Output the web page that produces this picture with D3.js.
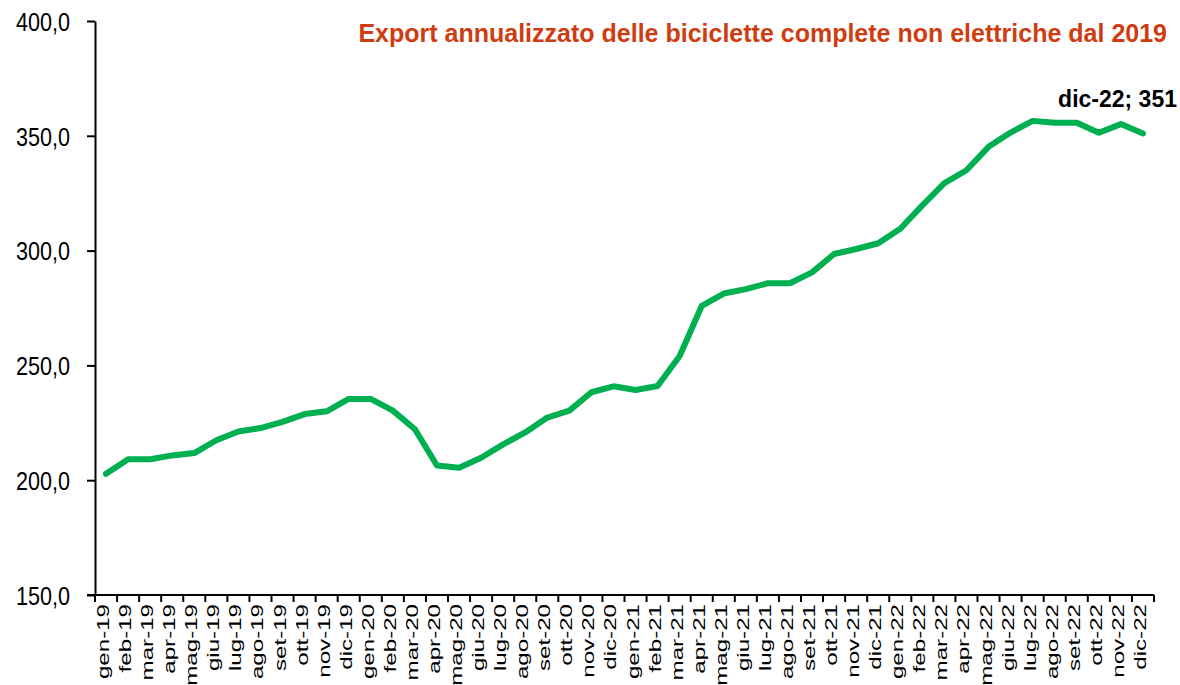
<!DOCTYPE html>
<html>
<head>
<meta charset="utf-8">
<script src="https://cdn.jsdelivr.net/npm/d3@7"></script>
<style>
  body { margin: 0; background: #fff; }
  svg { display: block; }
</style>
</head>
<body>
<svg id="chart" width="1180" height="685"></svg>
<script>
// months on the x axis
const months = [
    "gen-19","feb-19","mar-19","apr-19","mag-19","giu-19","lug-19","ago-19","set-19","ott-19","nov-19","dic-19",
    "gen-20","feb-20","mar-20","apr-20","mag-20","giu-20","lug-20","ago-20","set-20","ott-20","nov-20","dic-20",
    "gen-21","feb-21","mar-21","apr-21","mag-21","giu-21","lug-21","ago-21","set-21","ott-21","nov-21","dic-21",
    "gen-22","feb-22","mar-22","apr-22","mag-22","giu-22","lug-22","ago-22","set-22","ott-22","nov-22","dic-22"
];

// annualised export
const exportValues = [
    202.8, 209.1, 209.1, 210.8, 211.8, 217.4, 221.2, 222.7, 225.4, 228.8, 230.0, 235.4,
    235.4, 230.3, 222.2, 206.4, 205.4, 209.8, 215.6, 220.8, 227.3, 230.3, 238.3, 240.9,
    239.3, 241.0, 254.1, 275.9, 281.3, 283.2, 285.8, 285.8, 290.5, 298.5, 300.7, 303.2,
    309.5, 319.7, 329.4, 335.0, 345.2, 351.4, 356.5, 355.7, 355.7, 351.3, 355.1, 351.0
];

const yTicks = [150, 200, 250, 300, 350, 400];

const titleText = "Export annualizzato delle biciclette complete non elettriche dal 2019";
const lastLabel = "dic-22; 351";

const data = months.map((m, i) => ({ month: m, value: exportValues[i] }));

const svg = d3.select("#chart");
const mLeft = 95, mRight = 1154, mTop = 21, mBottom = 595;

const x = d3.scaleBand().domain(months).range([mLeft, mRight]).padding(0);
const y = d3.scaleLinear().domain([150, 400]).range([mBottom, mTop]);

const fmt = d => d3.format(".1f")(d).replace(".", ",");

// y axis
const yAxis = svg.append("g")
    .attr("transform", `translate(${mLeft},0)`)
    .call(d3.axisLeft(y).tickValues(yTicks).tickSize(8).tickSizeOuter(0).tickFormat(fmt));
yAxis.select(".domain").attr("stroke", "#000").attr("stroke-width", 2);
yAxis.selectAll(".tick line").attr("stroke", "#000").attr("stroke-width", 2);
// condensed labels, squeezed horizontally
yAxis.selectAll(".tick text")
    .attr("x", 0)
    .attr("dy", "0.36em")
    .attr("transform", "translate(-25,0) scale(0.83,1)")
    .style("font-family", "'Liberation Sans', Arial, sans-serif")
    .style("font-size", "26px")
    .attr("fill", "#000");

// x axis line, boundary ticks and rotated labels (category style)
const xg = svg.append("g");
xg.append("line")
    .attr("x1", mLeft - 8).attr("x2", mRight)
    .attr("y1", mBottom).attr("y2", mBottom)
    .attr("stroke", "#000").attr("stroke-width", 2);

const bounds = months.map(m => x(m)).concat([x(months[months.length - 1]) + x.bandwidth()]);
xg.selectAll("line.xtick")
    .data(bounds)
    .enter()
    .append("line")
    .attr("class", "xtick")
    .attr("x1", d => d).attr("x2", d => d)
    .attr("y1", mBottom).attr("y2", mBottom + 7)
    .attr("stroke", "#000").attr("stroke-width", 2);

xg.selectAll("text.xlab")
    .data(months)
    .enter()
    .append("text")
    .attr("class", "xlab")
    .attr("transform", d => `translate(${x(d) + x.bandwidth() / 2 + 3},${mBottom + 9}) rotate(-90) scale(1.42,1)`)
    .attr("text-anchor", "end")
    .style("font-family", "'Liberation Sans', Arial, sans-serif")
    .style("font-size", "17px")
    .attr("fill", "#000")
    .text(d => d);

// the series line
const line = d3.line()
    .x(d => x(d.month) + x.bandwidth() / 2)
    .y(d => y(d.value));

svg.append("path")
    .datum(data)
    .attr("d", line)
    .attr("fill", "none")
    .attr("stroke", "#00b050")
    .attr("stroke-width", 6)
    .attr("stroke-linejoin", "round")
    .attr("stroke-linecap", "round");

// title
svg.append("text")
    .attr("x", 1167).attr("y", 42)
    .attr("text-anchor", "end")
    .style("font-family", "'Liberation Sans Narrow', 'Arial Narrow', sans-serif")
    .style("font-weight", "bold")
    .style("font-size", "25px")
    .attr("fill", "#cf3c10")
    .text(titleText);

// label on the last point
svg.append("text")
    .attr("x", 1177).attr("y", 107)
    .attr("text-anchor", "end")
    .style("font-family", "'Liberation Sans Narrow', 'Arial Narrow', sans-serif")
    .style("font-weight", "bold")
    .style("font-size", "23px")
    .attr("fill", "#000")
    .text(lastLabel);
</script>
</body>
</html>
